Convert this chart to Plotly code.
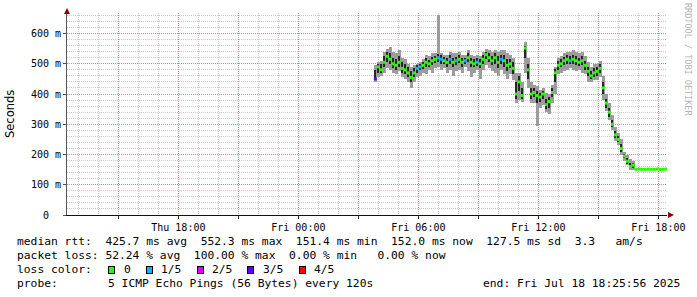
import plotly.graph_objects as go
import pandas as pd

# ---------------- data ----------------
start_time = "2025-07-18 03:51"
step_minutes = 9

rtt_median = [450, 490, 480, 505, 525, 515, 500, 495, 505, 485,
              480, 470, 455, 470, 485, 490, 495, 505, 500, 510,
              515, 520, 515, 510, 505, 515, 505, 510, 515, 505,
              510, 520, 505, 500, 505, 500, 515, 530, 520, 510,
              520, 505, 515, 510, 495, 500, 485, 400, 440, 395,
              552, 480, 400, 405, 395, 390, 400, 365, 375, 405,
              470, 495, 500, 510, 515, 510, 515, 510, 505, 510,
              495, 475, 460, 470, 475, 485, 420, 370, 340, 300,
              265, 250, 220, 195, 178, 160, 165, 151, 152, 151,
              151, 152, 151, 151, 152, 151, 151, 152]
rtt_min = [440, 455, 460, 470, 485, 480, 470, 465, 475, 455,
           450, 440, 420, 440, 455, 460, 470, 465, 480, 470,
           485, 490, 480, 485, 470, 480, 460, 475, 480, 470,
           490, 475, 455, 470, 480, 450, 480, 495, 485, 475,
           470, 460, 480, 465, 450, 465, 445, 370, 380, 375,
           470, 420, 370, 370, 295, 355, 365, 340, 335, 370,
           400, 465, 470, 475, 480, 485, 480, 475, 480, 470,
           465, 440, 440, 445, 445, 455, 380, 345, 315, 280,
           245, 230, 200, 180, 165, 150, 150, 151, 152, 151,
           151, 152, 151, 151, 152, 151, 151, 152]
rtt_max = [495, 505, 510, 540, 550, 555, 540, 535, 545, 520,
           515, 500, 490, 495, 500, 505, 515, 530, 525, 535,
           535, 661, 535, 530, 530, 540, 535, 535, 540, 530,
           530, 545, 530, 525, 530, 525, 540, 550, 545, 540,
           545, 540, 545, 545, 535, 530, 520, 470, 470, 440,
           573, 520, 440, 430, 425, 415, 420, 405, 400, 430,
           490, 520, 525, 535, 540, 540, 545, 540, 535, 540,
           525, 505, 490, 500, 500, 510, 460, 400, 370, 330,
           290, 270, 250, 210, 200, 185, 180, 151, 152, 151,
           151, 152, 151, 151, 152, 151, 151, 152]
rtt_q1 = [445, 470, 468, 490, 505, 500, 485, 480, 490, 470,
          465, 455, 440, 455, 470, 478, 482, 490, 490, 495,
          502, 505, 500, 498, 490, 500, 490, 495, 502, 490,
          500, 505, 488, 488, 492, 485, 500, 515, 505, 495,
          500, 485, 500, 490, 475, 485, 465, 385, 410, 385,
          520, 450, 385, 390, 370, 375, 385, 350, 355, 390,
          440, 480, 488, 495, 500, 498, 500, 495, 492, 495,
          480, 460, 450, 455, 460, 470, 400, 355, 325, 290,
          255, 240, 210, 188, 170, 155, 157, 151, 152, 151,
          151, 152, 151, 151, 152, 151, 151, 152]
rtt_q3 = [480, 500, 498, 525, 540, 535, 520, 515, 525, 505,
          498, 488, 475, 485, 495, 500, 505, 518, 512, 522,
          525, 532, 528, 522, 518, 528, 520, 522, 530, 518,
          520, 535, 520, 515, 518, 515, 528, 540, 535, 525,
          535, 525, 530, 530, 515, 515, 505, 440, 460, 420,
          560, 500, 420, 420, 410, 405, 410, 385, 390, 420,
          482, 510, 515, 522, 528, 525, 530, 525, 520, 525,
          510, 490, 475, 485, 490, 500, 440, 385, 355, 315,
          278, 260, 235, 203, 188, 172, 172, 151, 152, 151,
          151, 152, 151, 151, 152, 151, 151, 152]
loss_count = [3, 0, 0, 0, 0, 0, 0, 0, 0, 0,
              0, 0, 0, 0, 1, 1, 0, 0, 0, 0,
              0, 1, 1, 0, 0, 1, 0, 1, 0, 0,
              1, 0, 0, 0, 1, 0, 0, 0, 0, 0,
              0, 0, 1, 0, 0, 0, 0, 0, 0, 0,
              0, 0, 0, 0, 0, 0, 0, 0, 0, 0,
              0, 0, 0, 0, 0, 1, 0, 0, 0, 0,
              0, 0, 0, 0, 0, 0, 0, 0, 0, 0,
              0, 0, 0, 0, 0, 0, 0, 0, 0, 0,
              0, 0, 0, 0, 0, 0, 0, 0]

loss_labels = ["0", "1/5", "2/5", "3/5", "4/5"]
loss_colors = ["#26ff00", "#00b8ff", "#dd00ff", "#5e00ff", "#ff0000"]

y_tick_vals = [0, 100, 200, 300, 400, 500, 600]
y_tick_text = ["\u00a0\u00a00\u00a0\u00a0", "100 m", "200 m", "300 m", "400 m", "500 m", "600 m"]
x_tick_times = ["2025-07-17 15:00", "2025-07-17 18:00", "2025-07-17 21:00",
                "2025-07-18 00:00", "2025-07-18 03:00", "2025-07-18 06:00",
                "2025-07-18 09:00", "2025-07-18 12:00", "2025-07-18 15:00",
                "2025-07-18 18:00"]
x_tick_text = ["", "Thu 18:00", "", "Fri 00:00", "", "Fri 06:00", "",
               "Fri 12:00", "", "Fri 18:00"]
x_range = ["2025-07-17 12:25:56", "2025-07-18 18:25:56"]
y_range = [0, 668]

legend_line1 = "median rtt:  425.7 ms avg  552.3 ms max  151.4 ms min  152.0 ms now  127.5 ms sd  3.3   am/s"
legend_line2 = "packet loss: 52.24 % avg  100.00 % max  0.00 % min   0.00 % now"
legend_line3 = "loss color:"
legend_line4a = "probe:"
legend_line4b = "5 ICMP Echo Pings (56 Bytes) every 120s"
legend_line4c = "end: Fri Jul 18 18:25:56 2025"
watermark = "RRDTOOL / TOBI OETIKER"
y_title = "Seconds"

# ---------------- figure ----------------
W, H = 697, 297
ML, MR, MT, MB = 67, 30, 13, 82
PW, PH = W - ML - MR, H - MT - MB

def px(x):
    return (x - ML) / PW

def py(y):
    return (H - MB - y) / PH

def nb(s):
    return s.replace(" ", "\u00a0")

times = pd.date_range(start=start_time, periods=len(rtt_median), freq=f"{step_minutes}min")
bar_w = step_minutes * 60 * 1000

fig = go.Figure()
fig.add_trace(go.Bar(x=times, base=rtt_min,
                     y=[h - l for h, l in zip(rtt_max, rtt_min)],
                     width=bar_w, marker=dict(color="#9c9c9c", line=dict(width=0)),
                     showlegend=False, hoverinfo="skip"))
fig.add_trace(go.Bar(x=times, base=rtt_q1,
                     y=[h - l for h, l in zip(rtt_q3, rtt_q1)],
                     width=bar_w * 0.7, marker=dict(color="#262626", line=dict(width=0)),
                     showlegend=False, hoverinfo="skip"))
fig.add_trace(go.Scatter(x=times, y=rtt_median, mode="markers",
                         marker=dict(symbol="square", size=3,
                                     color=[loss_colors[c] for c in loss_count],
                                     line=dict(width=0)),
                         showlegend=False, hoverinfo="skip"))

mono = "DejaVu Sans Mono"
fig.update_layout(
    width=W, height=H, autosize=False,
    margin=dict(l=ML, r=MR, t=MT, b=MB, pad=0),
    paper_bgcolor="white", plot_bgcolor="white",
    barmode="overlay", bargap=0,
    showlegend=False,
    font=dict(family=mono, size=10, color="black"),
    xaxis=dict(type="date", range=x_range,
               tickmode="array", tickvals=x_tick_times, ticktext=x_tick_text,
               showgrid=True, gridcolor="rgba(200,70,70,0.45)", griddash="1px,1px", gridwidth=1,
               ticks="outside", ticklen=3, tickcolor="#222", tickwidth=1,
               showline=True, linecolor="#111", linewidth=1,
               zeroline=False, tickfont=dict(family=mono, size=10, color="black"),
               minor=dict(dtick=3600000, tick0="2025-07-17 00:00", showgrid=True,
                          gridcolor="rgba(150,150,150,0.5)", griddash="1px,1px", gridwidth=1,
                          ticks="")),
    yaxis=dict(range=y_range, tickmode="array", tickvals=y_tick_vals, ticktext=y_tick_text,
               showgrid=True, gridcolor="rgba(200,70,70,0.45)", griddash="1px,1px", gridwidth=1,
               ticks="outside", ticklen=3, tickcolor="#555", tickwidth=1,
               showline=True, linecolor="#555", linewidth=1,
               zeroline=False, tickfont=dict(family=mono, size=10, color="black"),
               minor=dict(dtick=20, showgrid=True,
                          gridcolor="rgba(150,150,150,0.5)", griddash="1px,1px", gridwidth=1,
                          ticks="")),
)

LEG = 11.3
annots = []
def text_at(x, y, s, size=LEG, anchor="left", color="black", family=mono, angle=0):
    annots.append(dict(xref="paper", yref="paper", x=px(x), y=py(y), text=nb(s),
                       showarrow=False, xanchor=anchor, yanchor="middle",
                       font=dict(family=family, size=size, color=color),
                       borderpad=0, textangle=angle))

text_at(16, 241, legend_line1)
text_at(16, 255, legend_line2)
text_at(16, 269.5, legend_line3)
text_at(16, 283.5, legend_line4a)
text_at(107, 283.5, legend_line4b)
text_at(681, 283.5, legend_line4c, anchor="right")

box_x = [111.5, 149.5, 200.5, 250.5, 302.5]
label_x = [123, 160, 211, 261.5, 313]
for bx, lx, lab, col in zip(box_x, label_x, loss_labels, loss_colors):
    annots.append(dict(xref="paper", yref="paper", x=px(bx), y=py(269.5), text=" ",
                       showarrow=False, xanchor="center", yanchor="middle",
                       width=5, height=6, bgcolor=col, bordercolor="black",
                       borderwidth=1, borderpad=0, font=dict(size=1)))
    text_at(lx, 269.5, lab)

text_at(688, 59, watermark, size=8.5, anchor="center", color="#b4b4b4", angle=90)
annots.append(dict(xref="paper", yref="paper", x=px(10), y=py(114), text=y_title,
                   showarrow=False, xanchor="center", yanchor="middle", textangle=-90,
                   font=dict(family="DejaVu Sans", size=11.5, color="black")))
fig.update_layout(annotations=annots)

# axis arrows (decoration)
def tri(pts):
    return "M " + " L ".join(f"{px(a)},{py(b)}" for a, b in pts) + " Z"
fig.add_shape(type="path", xref="paper", yref="paper",
              path=tri([(674, 215), (668, 212), (668, 218)]),
              fillcolor="#8b0000", line=dict(width=0))
fig.add_shape(type="path", xref="paper", yref="paper",
              path=tri([(67, 8), (64, 14), (70, 14)]),
              fillcolor="#8b0000", line=dict(width=0))

fig.write_html("out.html")
